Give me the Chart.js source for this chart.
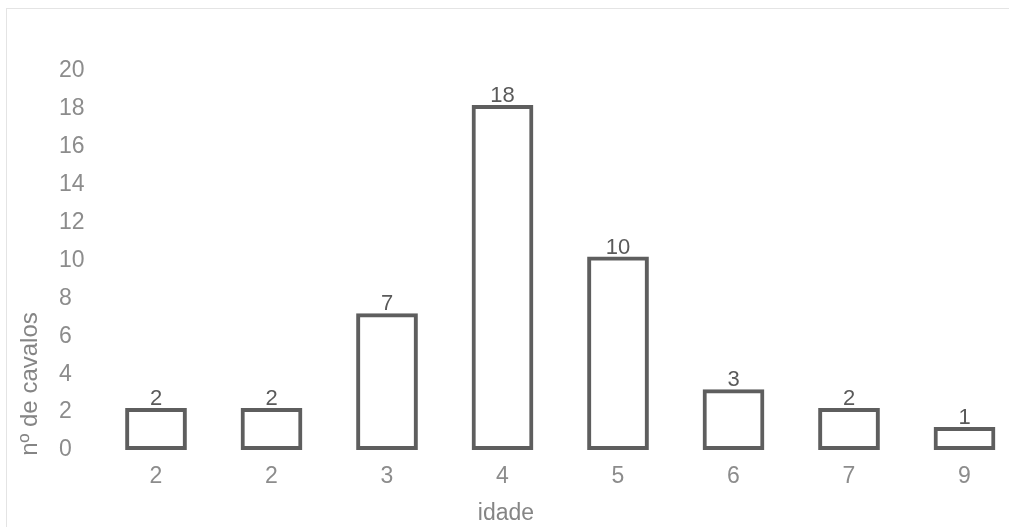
<!DOCTYPE html>
<html>
<head>
<meta charset="utf-8">
<script src="https://cdn.jsdelivr.net/npm/chart.js@4.4.1/dist/chart.umd.min.js"></script>
<style>
  html, body { margin: 0; padding: 0; background: #fff; overflow: hidden; width: 1009px; height: 527px; }
  #wrap { position: relative; width: 1040px; height: 527px; }
  #frame { position: absolute; left: 6px; top: 8px; width: 1100px; height: 600px;
           border-left: 1px solid #e4e4e4; border-top: 1px solid #e4e4e4; }
  #c { position: absolute; left: 0; top: 0; }
</style>
</head>
<body>
<div id="wrap">
  <div id="frame"></div>
  <canvas id="c" width="1040" height="527"></canvas>
</div>
<script>
// idade dos cavalos (categorias) e número de cavalos em cada uma
const idades = ['2', '2', '3', '4', '5', '6', '7', '9'];
const cavalos = [2, 2, 7, 18, 10, 3, 2, 1];
const yMin = 0;
const yMax = 20;
const yStep = 2;
const tituloX = 'idade';
const tituloY = 'nº de cavalos';

const FONT = '"Liberation Sans", Arial, sans-serif';

// value printed just above each bar
const valueLabels = {
  id: 'valueLabels',
  afterDatasetsDraw(chart, args, opts) {
    const { ctx } = chart;
    const ds = chart.data.datasets[0];
    ctx.save();
    ctx.font = `${opts.size}px ${FONT}`;
    ctx.fillStyle = opts.color;
    ctx.textAlign = 'center';
    ctx.textBaseline = 'alphabetic';
    chart.getDatasetMeta(0).data.forEach((bar, i) => {
      ctx.fillText(String(ds.data[i]), bar.x, bar.y - opts.offset);
    });
    ctx.restore();
  }
};

// axis captions
const axisCaptions = {
  id: 'axisCaptions',
  afterDraw(chart, args, opts) {
    const { ctx } = chart;
    ctx.save();
    ctx.fillStyle = opts.color;
    ctx.textAlign = 'center';
    ctx.textBaseline = 'alphabetic';
    ctx.font = `${opts.x.size}px ${FONT}`;
    ctx.fillText(opts.x.text, opts.x.cx, opts.x.baseline);
    ctx.font = `${opts.y.size}px ${FONT}`;
    ctx.translate(opts.y.baseline, opts.y.cy);
    ctx.rotate(-Math.PI / 2);
    ctx.fillText(opts.y.text, 0, 0);
    ctx.restore();
  }
};

new Chart(document.getElementById('c'), {
  type: 'bar',
  data: {
    labels: idades,
    datasets: [{
      data: cavalos,
      backgroundColor: '#ffffff',
      borderColor: '#5e5e5e',
      borderWidth: 4,
      borderSkipped: false,
      inflateAmount: 2,
      barPercentage: 0.5,
      categoryPercentage: 1,
      clip: false
    }]
  },
  options: {
    responsive: false,
    devicePixelRatio: 1,
    animation: false,
    layout: { padding: { left: 59, right: 17.75, top: 69, bottom: 0 } },
    plugins: {
      legend: { display: false },
      tooltip: { enabled: false },
      valueLabels: { size: 22, color: '#5a5a5a', offset: 5 },
      axisCaptions: {
        color: '#858585',
        x: { text: tituloX, cx: 506, baseline: 520, size: 23 },
        y: { text: tituloY, cy: 384, baseline: 37, size: 24 }
      }
    },
    scales: {
      x: {
        grid: { display: false, drawTicks: false },
        border: { display: false },
        ticks: { color: '#8c8c8c', font: { family: FONT, size: 23 }, padding: 15 },
        afterFit(s) { s.height = 79; }
      },
      y: {
        min: yMin,
        max: yMax,
        grid: { display: false, drawTicks: false },
        border: { display: false },
        ticks: { stepSize: yStep, color: '#8c8c8c', font: { family: FONT, size: 23 },
                 crossAlign: 'far', padding: 0, labelOffset: 2 },
        afterFit(s) { s.width = 39.25; }
      }
    }
  },
  plugins: [valueLabels, axisCaptions]
});
</script>
</body>
</html>
